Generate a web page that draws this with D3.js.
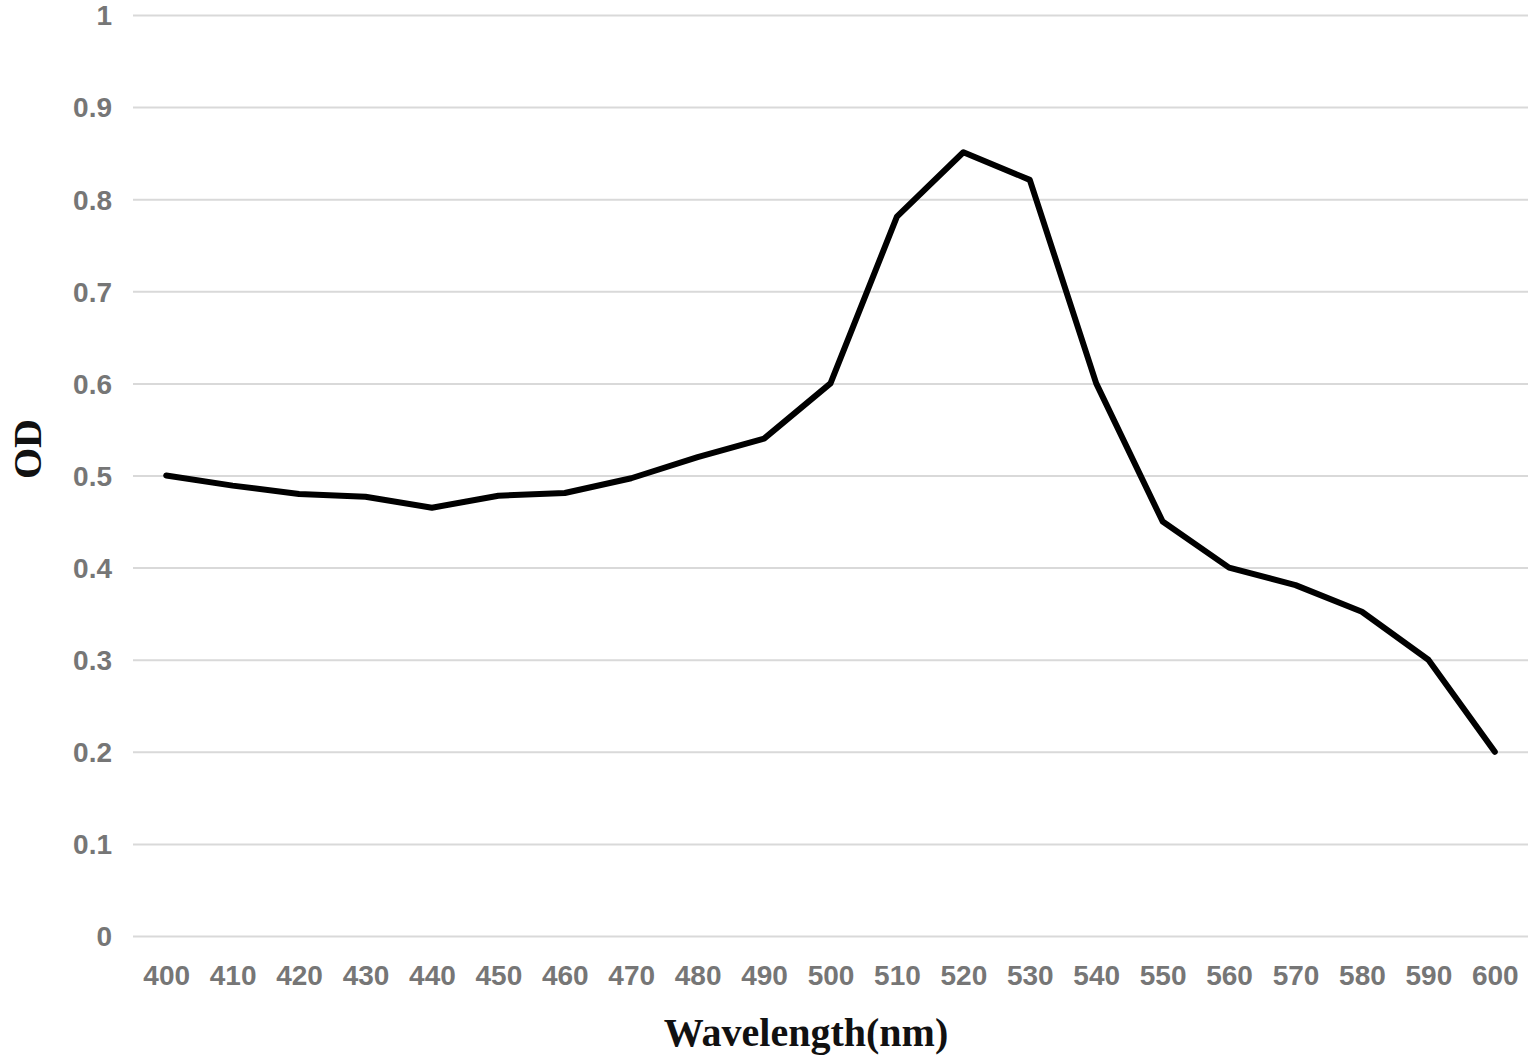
<!DOCTYPE html>
<html>
<head>
<meta charset="utf-8">
<script src="https://cdn.jsdelivr.net/npm/d3@7"></script>
<style>
  html, body { margin: 0; padding: 0; background: #fff; }
  svg { display: block; }
</style>
</head>
<body>
<svg id="chart" width="1535" height="1064"></svg>
<script>
const wavelengths = [400,410,420,430,440,450,460,470,480,490,500,510,520,530,540,550,560,570,580,590,600];
const odValues = [0.50,0.489,0.480,0.477,0.465,0.478,0.481,0.497,0.52,0.54,0.60,0.781,0.851,0.821,0.60,0.45,0.40,0.381,0.352,0.30,0.20];
const yTicks = [0,0.1,0.2,0.3,0.4,0.5,0.6,0.7,0.8,0.9,1];
const xTitle = "Wavelength(nm)";
const yTitle = "OD";

(function () {
const svg = d3.select("#chart");
const mLeft = 133, mRight = 1528, mTop = 15, mBottom = 936;

const x = d3.scalePoint().domain(wavelengths).range([mLeft, mRight]).padding(0.5);
const y = d3.scaleLinear().domain([0, 1]).range([mBottom, mTop]);

const yAxis = d3.axisLeft(y).tickValues(yTicks).tickSize(-(mRight - mLeft)).tickPadding(21)
  .tickFormat(d => d3.format("~g")(d));
const gy = svg.append("g").attr("transform", `translate(${mLeft},0)`).call(yAxis);
gy.select(".domain").remove();
gy.selectAll(".tick line").attr("stroke", "#d9d9d9").attr("stroke-width", 2);
gy.selectAll(".tick text")
  .attr("fill", "#767676").attr("font-family", "Liberation Sans, Arial, sans-serif")
  .attr("font-weight", "bold").attr("font-size", 28).attr("dy", "0.35em");

const xAxis = d3.axisBottom(x).tickSize(0).tickPadding(29);
const gx = svg.append("g").attr("transform", `translate(0,${mBottom})`).call(xAxis);
gx.select(".domain").remove();
gx.selectAll(".tick text")
  .attr("fill", "#767676").attr("font-family", "Liberation Sans, Arial, sans-serif")
  .attr("font-weight", "bold").attr("font-size", 28);

const line = d3.line().x((d, i) => x(wavelengths[i])).y(d => y(d));
svg.append("path").datum(odValues)
  .attr("d", line).attr("fill", "none").attr("stroke", "#000")
  .attr("stroke-width", 6).attr("stroke-linejoin", "round").attr("stroke-linecap", "round");

svg.append("text").text(xTitle)
  .attr("x", 806).attr("y", 1046)
  .attr("text-anchor", "middle").attr("font-family", "Liberation Serif, Times New Roman, serif")
  .attr("font-weight", "bold").attr("font-size", 40).attr("fill", "#111");

svg.append("text").text(yTitle)
  .attr("transform", `translate(41,449) rotate(-90)`)
  .attr("text-anchor", "middle").attr("font-family", "Liberation Serif, Times New Roman, serif")
  .attr("font-weight", "bold").attr("font-size", 40).attr("fill", "#111");
})();
</script>
</body>
</html>
